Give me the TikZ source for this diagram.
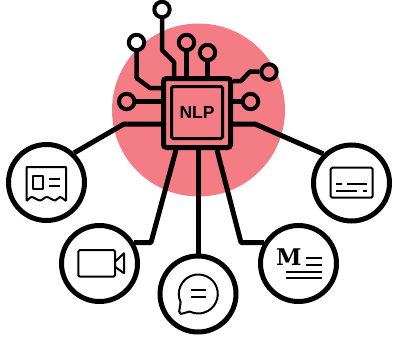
\documentclass[tikz,border=0pt]{standalone}
\usepackage{fontspec}
\setmainfont{Liberation Sans}
\newfontfamily\slabfont{DejaVu Serif}
\definecolor{blobpink}{HTML}{F47C84}

\begin{document}
\begin{tikzpicture}[
  x = 1pt, y = -1pt,
  wire/.style = {line width = 4.5pt, line join = round},
  arm/.style = {line width = 5pt, line join = round},
  icon/.style = {line width = 2pt, line join = round},
  pin/.style = {circle, draw, line width = 4pt, minimum size = 15.4pt, inner sep = 0pt},
  hub/.style = {circle, draw, line width = 5pt, minimum size = 76pt, inner sep = 0pt, fill = white},
  ]
  \useasboundingbox (0,0) rectangle (393,337);
  \fill[blobpink] (198.5,110) circle (86.5);

  % chip
  \node (chip) at (197,113) [draw, line width = 5pt, rounded corners = 3pt, minimum width = 67pt, minimum height = 69pt, inner sep = 0pt] {};
  \node (core) at (197,112.5) [draw, line width = 3pt, rounded corners = 1.5pt, minimum width = 51pt, minimum height = 52pt, inner sep = 0pt, font = \bfseries\fontsize{17.5}{19}\selectfont] {NLP};

  % pins
  \node (pintop) at (162,9.5) [pin, fill = white] {};
  \node (pinwhite) at (136.5,42.5) [pin, fill = white] {};
  \node (pinmid) at (186.5,42.5) [pin] {};
  \node (pinshort) at (207.5,52.5) [pin] {};
  \node (pinright) at (269,72) [pin] {};
  \node (pineast) at (250.5,101.5) [pin] {};
  \node (pinwest) at (126.7,101.5) [pin] {};

  \coordinate (a1) at (162,50);
  \coordinate (a2) at (174,62);
  \coordinate (a3) at (174,76);
  \coordinate (b1) at (136.5,78);
  \coordinate (b2) at (150,88);
  \coordinate (b3) at (161,88);
  \coordinate (c1) at (233,81);
  \coordinate (c2) at (241,81);
  \coordinate (c3) at (250,71.5);

  \draw[wire] (pintop) -- (a1) -- (a2) -- (a3);
  \draw[wire] (pinwhite) -- (b1) -- (b2) -- (b3);
  \draw[wire] (pinmid) -- (pinmid |- chip.north);
  \draw[wire] (pinshort) -- (pinshort |- chip.north);
  \draw[wire] (pinright) -- (c3) -- (c2) -- (c1);
  \draw[wire] (pineast) -- (pineast -| chip.east);
  \draw[wire] (pinwest) -- (pinwest -| chip.west);

  % outer circles
  \node (news) at (46.5,182.5) [hub] {};
  \node (video) at (99.5,263.5) [hub] {};
  \node (chat) at (198,294) [hub] {};
  \node (medium) at (298.5,263.5) [hub] {};
  \node (card) at (351.5,183) [hub] {};

  \coordinate (d1) at (124,124);
  \coordinate (d2) at (161,124);
  \coordinate (e1) at (255,124);
  \coordinate (e2) at (233,124);
  \coordinate (f1) at (151,242.5);
  \coordinate (f2) at (176,150);
  \coordinate (g1) at (241,242.5);
  \coordinate (g2) at (217,150);

  \draw[arm] (news.47) -- (d1) -- (d2);
  \draw[arm] (card.134) -- (e1) -- (e2);
  \draw[arm] (video.31) -- (f1) -- (f2);
  \draw[arm] (medium.149) -- (g1) -- (g2);
  \draw[arm] (chat.north) -- (chat |- chip.south);

  % icons
  \draw[icon] (26.7,201) -- (26.7,167) -- (66,167) -- (66,201)
    plot[smooth] coordinates {(66,201) (60,197) (55,200.5) (46.7,197) (40,200.5) (31.7,197) (26.7,201)};
  \draw[icon] (33.3,176) rectangle (43.3,189.3);
  \draw[icon] (49.3,179.3) -- (60,179.3) (49.3,186) -- (60,186);

  \draw[icon, rounded corners = 1.5pt] (78.3,250) rectangle (115,276.7);
  \draw[icon] (115,261.7) -- (124,253.3) -- (124,273.3) -- (115,266.7);

  \draw[icon] (189.75,311.5) arc[start angle = 116, end angle = -205, radius = 19.5] -- (179.2,311.5) -- (180.8,314) -- cycle;
  \draw[icon] (190.7,290) -- (205.7,290) (190.7,297.3) -- (205.7,297.3);

  \node (mletter) at (288.8,257.2) [inner sep = 0pt, font = \slabfont\bfseries\fontsize{23}{26}\selectfont] {M};
  \draw[icon] (305.7,258.3) -- (321.7,258.3) (305.7,265) -- (321.7,265)
    (286,271.7) -- (321.7,271.7) (286,278.3) -- (321.7,278.3);

  \draw[icon, rounded corners = 1.5pt] (330.7,167.7) rectangle (372.7,197.7);
  \draw[icon] (336,184.3) -- (341.7,184.3) (346.7,184.3) -- (367.3,184.3)
    (336,191) -- (357.3,191) (362.7,191) -- (367.3,191);
\end{tikzpicture}
\end{document}
